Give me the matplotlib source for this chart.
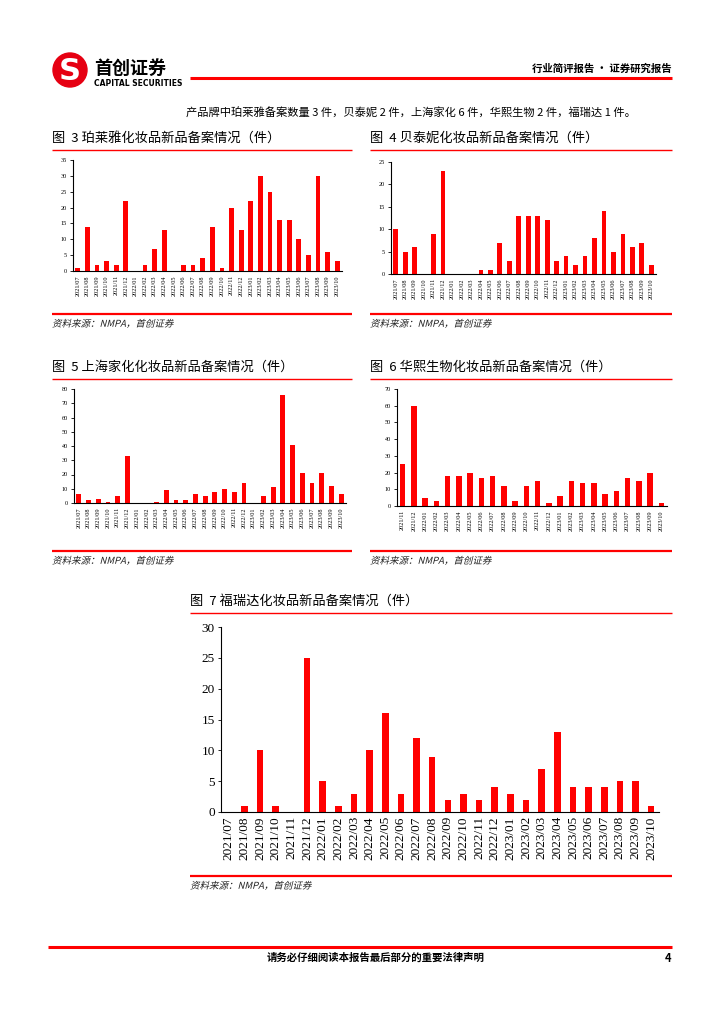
import numpy as np
import matplotlib
matplotlib.use("Agg")
import matplotlib.pyplot as plt
from matplotlib.patches import Circle, PathPatch
from matplotlib.textpath import TextPath
from matplotlib.font_manager import FontProperties
from matplotlib.transforms import Affine2D

W, H = 724, 1024
RED = "#ff0000"
CJK = ["Noto Sans CJK SC", "DejaVu Sans"]
SERIF = ["Liberation Serif", "DejaVu Serif"]

# month labels
months = ["2021/07", "2021/08", "2021/09", "2021/10", "2021/11", "2021/12",
          "2022/01", "2022/02", "2022/03", "2022/04", "2022/05", "2022/06",
          "2022/07", "2022/08", "2022/09", "2022/10", "2022/11", "2022/12",
          "2023/01", "2023/02", "2023/03", "2023/04", "2023/05", "2023/06",
          "2023/07", "2023/08", "2023/09", "2023/10"]
months_hx = months[4:]  # 华熙 starts 2021/11

# filings per month
proya = [1, 14, 2, 3, 2, 22, 0, 2, 7, 13, 0, 2, 2, 4, 14, 1, 20, 13, 22, 30,
         25, 16, 16, 10, 5, 30, 6, 3]
botanee = [10, 5, 6, 0, 9, 23, 0, 0, 0, 1, 1, 7, 3, 13, 13, 13, 12, 3, 4, 2,
           4, 8, 14, 5, 9, 6, 7, 2]
jahwa = [6, 2, 3, 1, 5, 33, 0, 0, 1, 9, 2, 2, 6, 5, 8, 10, 8, 14, 0, 5, 11,
         76, 41, 21, 14, 21, 12, 6]
bloomage = [25, 60, 5, 3, 18, 18, 20, 17, 18, 12, 3, 12, 15, 2, 6, 15, 14, 14,
            7, 9, 17, 15, 20, 2]
freda = [0, 1, 10, 1, 0, 25, 5, 1, 3, 10, 16, 3, 12, 9, 2, 3, 2, 4, 3, 2, 7,
         13, 4, 4, 4, 5, 5, 1]

fig = plt.figure(figsize=(W / 100, H / 100), dpi=100)

# page layer in pixel coords
bg = fig.add_axes([0, 0, 1, 1])
bg.set_xlim(0, W)
bg.set_ylim(H, 0)
bg.axis("off")


def hline(x0, x1, y, lw=1.0):
    bg.plot([x0, x1], [y, y], color=RED, lw=lw, solid_capstyle="butt")


def txt(x, y, s, size=8, ha="left", **kw):
    bg.text(x, y, s, fontsize=size, ha=ha, va="center", family=CJK, **kw)


def slanted(x, y, s, px=9.5):
    # fake italic: CJK font has no italic face
    tp = TextPath((0, 0), s, size=px, prop=FontProperties(family="Noto Sans CJK SC"))
    tr = Affine2D().skew_deg(14, 0).scale(1, -1).translate(x, y + px * 0.4) + bg.transData
    bg.add_patch(PathPatch(tp, transform=tr, color="#222222", lw=0))


# header
bg.add_patch(Circle((70, 70), 17, color="#e60012"))
bg.text(70, 71, "S", fontsize=22, color="white", ha="center", va="center",
        fontweight="bold", family=["DejaVu Sans"])
txt(94, 68, "首创证券", size=13, fontweight="bold")
bg.text(94, 84, "CAPITAL SECURITIES", fontsize=5.5, fontweight="bold",
        va="center", family=["DejaVu Sans"])
hline(190, 672, 77.5, lw=2.2)
txt(672, 69, "行业简评报告 · 证券研究报告", size=7.5, ha="right", fontweight="bold")
txt(186, 113, "产品牌中珀莱雅备案数量 3 件，贝泰妮 2 件，上海家化 6 件，华熙生物 2 件，福瑞达 1 件。",
    size=8.1, fontweight="light")

# footer
hline(48, 672, 947, lw=2.2)
txt(376, 958, "请务必仔细阅读本报告最后部分的重要法律声明", size=7.5, ha="center",
    fontweight="bold")
txt(668, 958, "4", size=8, ha="center", fontweight="bold")


def panel(box, title_x, line_x, title_y, src_y, title, labels, values,
          ymax, step, bw, fs):
    l, t, r, b = box
    x0, x1 = line_x
    txt(title_x, title_y, title, size=9.5)
    hline(x0, x1, title_y + 12, lw=1.0)
    hline(x0, x1, src_y, lw=1.6)
    slanted(title_x, src_y + 9, "资料来源：NMPA，首创证券")

    ax = fig.add_axes([l / W, 1 - b / H, (r - l) / W, (b - t) / H])
    x = np.arange(len(values))
    ax.bar(x, values, width=bw, color=RED)
    ax.set_xlim(-0.5, len(values) - 0.5)
    ax.set_ylim(0, ymax)
    ax.set_yticks(np.arange(0, ymax + 1, step))
    ax.set_xticks(x)
    ax.set_xticklabels(labels, rotation=90)
    for sp in ["top", "right"]:
        ax.spines[sp].set_visible(False)
    for sp in ["left", "bottom"]:
        ax.spines[sp].set_linewidth(0.8)
    ax.tick_params(axis="x", length=0, pad=3, labelsize=fs)
    ax.tick_params(axis="y", length=2.5, width=0.6, pad=2, labelsize=fs)
    for lab in ax.get_xticklabels() + ax.get_yticklabels():
        lab.set_family(SERIF)
    ax.patch.set_alpha(0)
    return ax


panel((73, 160, 342, 271), 52, (52, 352), 138, 314,
      "图  3 珀莱雅化妆品新品备案情况（件）", months, proya, 35, 5, 0.5, 4.5)
panel((391, 162, 656, 274), 370, (370, 672), 138, 314,
      "图  4 贝泰妮化妆品新品备案情况（件）", months, botanee, 25, 5, 0.5, 4.5)
panel((74, 389, 346, 503), 52, (52, 352), 367, 551,
      "图  5 上海家化化妆品新品备案情况（件）", months, jahwa, 80, 10, 0.5, 4.5)
panel((397, 389, 667, 506), 370, (370, 672), 367, 551,
      "图  6 华熙生物化妆品新品备案情况（件）", months_hx, bloomage, 70, 10, 0.5, 4.5)
panel((221, 627, 659, 812), 190, (190, 672), 601, 876,
      "图  7 福瑞达化妆品新品备案情况（件）", months, freda, 30, 5, 0.42, 9.5)

fig.savefig("out.png", dpi=100)
